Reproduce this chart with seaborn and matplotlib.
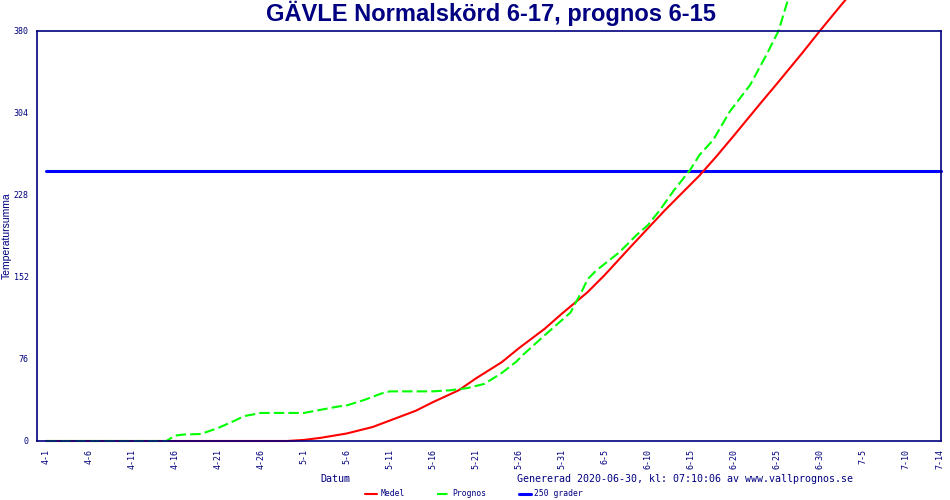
import pandas as pd
import matplotlib.pyplot as plt
import seaborn as sns

# Day index counted from 4-1
medel_days = [0, 28, 30, 32, 35, 38, 40, 43, 45, 48, 50, 53, 55, 58, 60, 63, 65, 68,
              70, 72, 74, 76, 78, 80, 83, 85, 88, 90, 93, 96]
medel_vals = [0, 0, 1, 3, 7, 13, 19, 28, 36, 47, 58, 73, 86, 104, 118, 138, 154, 180,
              197, 214, 230, 246, 264, 283, 312, 331, 360, 380, 409, 438]

prognos_days = [0, 14, 15, 16, 18, 20, 22, 23, 25, 30, 32, 34, 35, 37, 39, 40, 45, 47,
                49, 51, 53, 54.7, 55.5, 58, 60, 61, 62.4, 63, 64, 66.7, 68.7, 70, 71.4,
                73, 74.9, 76, 77.6, 79.5, 81.9, 83.8, 85.2, 86.3, 87.5]
prognos_vals = [0, 0, 5, 6, 6.5, 12, 19, 23, 26, 26, 29, 32, 33, 38, 44, 46, 46, 47,
                49, 53, 63, 73.5, 80, 98, 112, 119, 140, 150, 158, 175, 191, 200, 214,
                232, 251, 265, 279, 305, 330, 358, 380, 409, 425]

grader_days = [0, 104.1]
grader_vals = [250, 250]

tick_days = list(range(0, 101, 5)) + [104]
tick_labels = ["4-1", "4-6", "4-11", "4-16", "4-21", "4-26", "5-1", "5-6", "5-11",
               "5-16", "5-21", "5-26", "5-31", "6-5", "6-10", "6-15", "6-20", "6-25",
               "6-30", "7-5", "7-10", "7-14"]
y_ticks = [0, 76, 152, 228, 304, 380]

navy = "#000080"

sns.set_theme(style="white")
plt.rcParams["font.family"] = ["DejaVu Sans Mono", "DejaVu Sans"]

fig = plt.figure(figsize=(9.5, 5), dpi=100)
ax = fig.add_axes([37 / 950, 59 / 500, 904 / 950, 410 / 500])

sns.lineplot(x=grader_days, y=grader_vals, ax=ax, color="#0000ff", linewidth=2.2,
             label="250 grader", legend=False)
sns.lineplot(x=medel_days, y=medel_vals, ax=ax, color="#ff0000", linewidth=1.5,
             label="Medel", legend=False)
sns.lineplot(x=prognos_days, y=prognos_vals, ax=ax, color="#00ff00", linewidth=1.5,
             label="Prognos", legend=False)
for ln in ax.lines:
    ln.set_clip_on(False)
ax.lines[2].set_dashes([5, 2])

ax.set_xlim(-1.05, 104.1)
ax.set_ylim(0, 380)
ax.set_xticks(tick_days)
ax.set_xticklabels(tick_labels, rotation=90, fontsize=6, color=navy)
ax.set_yticks(y_ticks)
ax.set_yticklabels([str(v) for v in y_ticks], fontsize=6, color=navy)
ax.tick_params(axis="both", direction="out", length=4, width=1, color=navy, pad=2)
for sp in ax.spines.values():
    sp.set_color(navy)
    sp.set_linewidth(1.2)
ax.grid(False)

ax.set_xlabel("")
ax.set_ylabel("Temperatursumma", family="Liberation Sans", fontsize=7.5, color=navy)
ax.yaxis.set_label_coords(-0.0275, 0.5)

fig.text(491 / 950, 1 - 13 / 500, "GÄVLE Normalskörd 6-17, prognos 6-15",
         family="Liberation Sans", fontweight="bold", fontsize=17, color=navy,
         ha="center", va="center")
fig.text(335 / 950, 1 - 479 / 500, "Datum", fontsize=7.2, color=navy,
         ha="center", va="center")
fig.text(517 / 950, 1 - 479 / 500,
         "Genererad 2020-06-30, kl: 07:10:06 av www.vallprognos.se",
         fontsize=7.2, color=navy, ha="left", va="center")

handles = [ax.lines[1], ax.lines[2], ax.lines[0]]
leg = fig.legend(handles, ["Medel", "Prognos", "250 grader"], loc="center",
                 bbox_to_anchor=(474 / 950, 1 - 494 / 500), ncol=3, frameon=False,
                 fontsize=5.8, handlelength=1.5, handletextpad=0.4, columnspacing=4)
for t in leg.get_texts():
    t.set_color(navy)

fig.savefig("out.png", dpi=100)
